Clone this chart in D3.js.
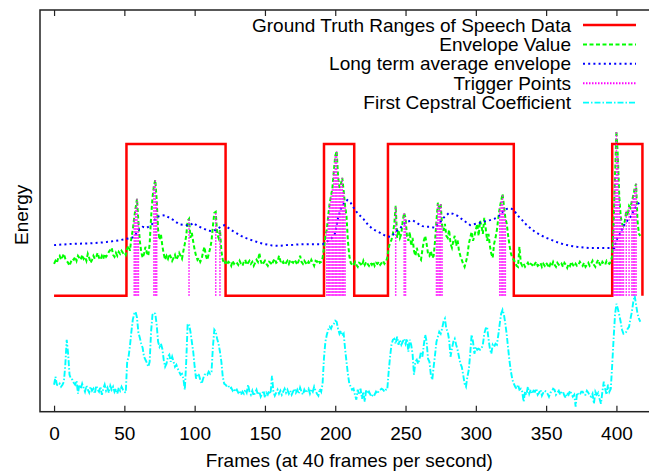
<!DOCTYPE html>
<html lang="en">
<head>
<meta charset="UTF-8">
<title>Speech Energy Envelope</title>
<script src="https://d3js.org/d3.v7.min.js"></script>
<style>
    body { margin: 0; background: #fff; }
    svg { display: block; font-family: "Liberation Sans", Arial, sans-serif; }
    .lbl { font-size: 19px; fill: #000; }
    .tick text { font-size: 19px; fill: #000; font-family: "Liberation Sans", Arial, sans-serif; }
</style>
</head>
<body>
<div class="viz"></div>
<script>
const xTicks = [0, 50, 100, 150, 200, 250, 300, 350, 400];
const seriesNames = ["Ground Truth Ranges of Speech Data", "Envelope Value", "Long term average envelope", "Trigger Points", "First Cepstral Coefficient"];

const gtOn = [51.5, 192, 237.5, 397];
const gtOff = [122, 213.5, 327, 418.5];
const gtLow = 0, gtHigh = 152;

// envelope, one value per frame (0..417)
const envelope = [
    32, 35, 33, 38, 40, 36, 39, 42, 37, 35,
    33, 30, 34, 37, 36, 39, 35, 40, 38, 36,
    41, 37, 39, 35, 42, 38, 33, 36, 40, 37,
    39, 43, 38, 36, 40, 37, 42, 39, 41, 44,
    46, 48, 41, 39, 43, 40, 44, 42, 45, 43,
    44, 41, 47, 50, 45, 58, 66, 78, 88, 97,
    74, 55, 44, 38, 42, 49, 43, 40, 52, 78,
    98, 110, 116, 96, 66, 56, 62, 50, 42, 36,
    40, 37, 42, 39, 35, 38, 41, 36, 39, 43,
    40, 37, 45, 52, 60, 75, 77, 58, 63, 54,
    46, 40, 36, 38, 34, 37, 44, 49, 40, 36,
    42, 47, 55, 70, 83, 84, 62, 58, 66, 45,
    36, 32, 34, 31, 34, 33, 30, 35, 32, 34,
    33, 31, 35, 32, 30, 34, 36, 31, 33, 35,
    32, 34, 30, 33, 36, 34, 43, 35, 31, 33,
    35, 32, 30, 34, 33, 31, 35, 37, 33, 34,
    40, 35, 32, 34, 31, 33, 35, 32, 36, 34,
    33, 36, 34, 31, 35, 40, 34, 32, 35, 33,
    31, 34, 32, 36, 33, 30, 35, 34, 36, 33,
    34, 38, 48, 60, 66, 80, 92, 100, 108, 125,
    140, 145, 120, 108, 112, 118, 105, 90, 80, 55,
    40, 33, 31, 30, 34, 31, 29, 33, 32, 30,
    35, 31, 34, 32, 30, 33, 31, 34, 30, 33,
    32, 34, 31, 33, 35, 32, 34, 38, 48, 53,
    56, 62, 72, 90, 58, 66, 58, 62, 75, 83,
    78, 60, 55, 64, 50, 58, 45, 40, 48, 42,
    38, 36, 46, 55, 60, 52, 42, 40, 45, 38,
    40, 55, 75, 93, 88, 92, 70, 65, 72, 60,
    58, 66, 52, 48, 55, 60, 50, 56, 45, 40,
    36, 32, 29, 34, 40, 52, 58, 64, 55, 60,
    66, 72, 60, 75, 70, 62, 78, 68, 55, 62,
    50, 42, 38, 52, 58, 66, 78, 88, 95, 102,
    90, 78, 72, 60, 50, 42, 38, 36, 33, 30,
    29, 49, 33, 30, 32, 29, 31, 33, 30, 32,
    31, 29, 32, 34, 30, 31, 33, 29, 32, 30,
    33, 31, 28, 32, 30, 34, 31, 29, 33, 31,
    30, 32, 29, 33, 31, 28, 32, 30, 34, 31,
    29, 32, 30, 31, 34, 32, 30, 33, 29, 31,
    33, 30, 32, 35, 31, 29, 33, 36, 32, 30,
    34, 32, 31, 35, 33, 32, 34, 40, 70, 120,
    165, 140, 100, 80, 72, 70, 75, 85, 80, 90,
    88, 95, 100, 108, 112, 75, 62, 60
];

// long term average envelope (smooth, read at these frames)
const ltaFrames = [0, 13, 25, 37, 47, 55, 57, 60, 63, 66, 70, 73, 76, 79, 82, 85, 89, 94, 97, 99,
    102, 106, 110, 112, 115, 117, 119, 121, 124, 127, 130, 133, 136, 139, 142, 146, 150, 155, 160, 165,
    170, 175, 180, 185, 191, 194, 197, 199, 200, 202, 204, 206, 208.6, 211, 213, 216, 220, 223.5, 227, 232,
    236, 239, 241, 243, 246, 249, 251, 255, 258, 262, 265, 268, 271, 274, 277, 281, 284, 287, 291, 296,
    300, 305, 310, 313, 316, 319, 322, 325, 327, 330, 333, 336, 339, 342, 346, 350, 353, 357, 362, 367,
    372, 377, 381, 386, 391, 396, 398.5, 400, 402.5, 405, 407, 410, 413, 417];
const ltaValues = [50.7, 52, 52.4, 53.7, 55.7, 58, 59, 66, 69, 68, 72, 79, 80, 80.7, 78, 75.7, 71.5, 70.7, 70.7, 73,
    70, 67.4, 65, 64.7, 66, 67.7, 69.5, 70.7, 68, 65, 62.5, 60, 58, 56.4, 55, 53, 51.7, 50.4, 50, 50.7,
    51, 51.5, 51.7, 51.7, 51.7, 54, 57, 60, 63, 78, 87, 92, 95.7, 93, 88.4, 82.4, 77, 70.7, 66.5, 63,
    59.7, 59, 61, 64, 67.4, 72, 74, 75.7, 73, 69.7, 69, 69, 68, 72.4, 78, 83, 82, 80, 75.7, 70.7,
    72, 74, 75.7, 77, 79, 84, 87, 87.4, 85.7, 80, 75.7, 71, 67.4, 64, 60.7, 58, 56.4, 54, 51.7, 50,
    49, 48.2, 47.7, 47.7, 47.7, 47.7, 47.7, 55.7, 62, 69.7, 74, 79, 87.4, 94.7];

// frames flagged as trigger points (drawn up to the envelope value)
const triggerFrames = [57, 58, 59, 60, 71, 72, 73, 96, 115, 118,
    194, 195, 196, 197, 198, 199, 200, 201, 202, 203, 204, 205, 206, 207,
    243, 249, 250, 272, 273, 274, 275, 276, 317, 318, 319, 320, 321,
    398, 399, 400, 401, 402, 403, 404, 405, 407, 409, 411, 412, 413, 414];

// first cepstral coefficient, one value per frame (0..417)
const cepstral = [
    -89, -81, -89, -90, -88, -91, -89, -86, -69, -44,
    -58, -79, -83, -84, -87, -89, -85, -98, -89, -93,
    -88, -92, -96, -90, -94, -97, -91, -95, -93, -98,
    -90, -94, -96, -91, -99, -93, -89, -95, -92, -97,
    -90, -94, -91, -96, -93, -98, -92, -95, -91, -94,
    -96, -97, -66, -61, -50, -36, -24, -18, -16, -22,
    -37, -42, -48, -52, -61, -64, -67, -71, -66, -36,
    -19, -17, -18, -29, -46, -51, -48, -53, -64, -71,
    -68, -61, -59, -66, -61, -66, -71, -69, -73, -76,
    -79, -78, -83, -94, -66, -29, -28, -36, -46, -56,
    -71, -83, -78, -79, -84, -88, -83, -79, -78, -79,
    -76, -78, -76, -51, -34, -36, -43, -48, -56, -66,
    -81, -88, -89, -91, -90, -93, -92, -95, -93, -96,
    -94, -97, -95, -99, -96, -98, -94, -97, -89, -96,
    -99, -95, -100, -97, -94, -99, -96, -101, -98, -95,
    -102, -97, -99, -95, -98, -80, -96, -100, -97, -94,
    -98, -95, -99, -96, -93, -97, -94, -98, -95, -99,
    -96, -93, -97, -94, -98, -92, -96, -99, -94, -97,
    -95, -93, -98, -94, -96, -91, -95, -98, -100, -93,
    -96, -88, -62, -46, -39, -34, -31, -33, -29, -28,
    -25, -26, -33, -38, -35, -40, -38, -53, -66, -78,
    -88, -91, -94, -93, -99, -104, -94, -99, -93, -103,
    -96, -106, -94, -98, -96, -99, -101, -98, -99, -96,
    -98, -95, -94, -93, -94, -96, -94, -94, -76, -61,
    -49, -44, -43, -48, -41, -49, -44, -49, -46, -43,
    -48, -43, -56, -44, -49, -58, -79, -66, -64, -68,
    -63, -56, -61, -49, -39, -46, -63, -66, -79, -84,
    -71, -59, -46, -41, -36, -38, -33, -26, -23, -33,
    -36, -44, -61, -53, -46, -43, -49, -54, -61, -68,
    -71, -79, -88, -91, -81, -74, -58, -39, -46, -58,
    -51, -54, -53, -54, -53, -49, -38, -33, -31, -43,
    -53, -58, -49, -51, -48, -49, -39, -28, -18, -14,
    -19, -28, -39, -53, -66, -76, -84, -88, -91, -93,
    -89, -94, -93, -96, -106, -96, -99, -91, -98, -94,
    -98, -95, -96, -93, -99, -97, -94, -100, -97, -95,
    -96, -98, -101, -97, -96, -93, -94, -99, -97, -95,
    -99, -96, -96, -100, -102, -97, -99, -95, -98, -101,
    -99, -111, -97, -99, -99, -96, -96, -99, -99, -95,
    -97, -100, -101, -98, -108, -96, -99, -97, -103, -108,
    -96, -86, -93, -99, -89, -96, -93, -69, -43, -19,
    -8, -13, -19, -26, -34, -38, -38, -36, -33, -31,
    -23, -16, -6, 0, -9, -18, -23, -26
];

const W = 649, H = 474;
const margin = { left: 40, top: 10 };
const plotW = 618.6, plotH = 401.7;

const svg = d3.select('.viz').append('svg')
    .attr('width', W)
    .attr('height', H);

const x = d3.scaleLinear().domain([-10, 430]).range([margin.left, margin.left + plotW]);
const y = d3.scaleLinear().domain([-116, 286]).range([margin.top + plotH, margin.top]);

// ground truth as a step outline
const gtPts = [[0, gtLow]];
gtOn.forEach((on, i) => {
    gtPts.push([on, gtLow], [on, gtHigh], [gtOff[i], gtHigh], [gtOff[i], gtLow]);
});

const line = d3.line().x(d => x(d[0])).y(d => y(d[1]));

svg.append('path')
    .datum(gtPts)
    .attr('d', line)
    .attr('fill', 'none')
    .attr('stroke', '#ff0000')
    .attr('stroke-width', 2.5);

svg.append('path')
    .datum(envelope.map((v, i) => [i, v]))
    .attr('d', line)
    .attr('fill', 'none')
    .attr('stroke', '#00ff00')
    .attr('stroke-width', 2)
    .attr('stroke-dasharray', '4,2.5');

svg.append('path')
    .datum(ltaFrames.map((f, i) => [f, ltaValues[i]]))
    .attr('d', line)
    .attr('fill', 'none')
    .attr('stroke', '#0000ff')
    .attr('stroke-width', 2)
    .attr('stroke-dasharray', '2,3.2');

svg.append('g').selectAll('line')
    .data(triggerFrames)
    .join('line')
    .attr('x1', d => x(d)).attr('x2', d => x(d))
    .attr('y1', y(gtLow)).attr('y2', d => y(envelope[d]))
    .attr('stroke', '#ff00ff')
    .attr('stroke-width', 1.5)
    .attr('stroke-dasharray', '1.5,1.5');

svg.append('path')
    .datum(cepstral.map((v, i) => [i, v]))
    .attr('d', line)
    .attr('fill', 'none')
    .attr('stroke', '#00ffff')
    .attr('stroke-width', 1.9)
    .attr('stroke-dasharray', '6,2,1.5,2');

// border + ticks
svg.append('rect')
    .attr('x', margin.left).attr('y', margin.top)
    .attr('width', plotW).attr('height', plotH)
    .attr('fill', 'none')
    .attr('stroke', '#222')
    .attr('stroke-width', 1.5);

const xAxis = svg.append('g')
    .attr('transform', `translate(0,${margin.top + plotH})`)
    .call(d3.axisBottom(x).tickValues(xTicks).tickSize(-6).tickPadding(15));
xAxis.select('.domain').remove();
xAxis.selectAll('.tick line').attr('stroke', '#222').attr('stroke-width', 1.2);

const xTop = svg.append('g')
    .attr('transform', `translate(0,${margin.top})`)
    .call(d3.axisTop(x).tickValues(xTicks).tickSize(-6).tickFormat(''));
xTop.select('.domain').remove();
xTop.selectAll('.tick line').attr('stroke', '#222').attr('stroke-width', 1.2);

svg.append('text')
    .attr('class', 'lbl')
    .attr('x', margin.left + plotW / 2)
    .attr('y', 467)
    .attr('text-anchor', 'middle')
    .text('Frames (at 40 frames per second)');

svg.append('text')
    .attr('class', 'lbl')
    .attr('transform', `translate(28,${margin.top + plotH / 2 + 4}) rotate(-90)`)
    .attr('text-anchor', 'middle')
    .text('Energy');

// legend
const legendStyles = [
    { color: '#ff0000', dash: null, w: 2.5 },
    { color: '#00ff00', dash: '4,2.5', w: 2 },
    { color: '#0000ff', dash: '2,3.2', w: 2 },
    { color: '#ff00ff', dash: '1.5,1.5', w: 2 },
    { color: '#00ffff', dash: '6,2,1.5,2', w: 1.9 }
];
const legend = svg.append('g').selectAll('g')
    .data(seriesNames)
    .join('g')
    .attr('transform', (d, i) => `translate(0,${25 + i * 19.4})`);

legend.append('text')
    .attr('class', 'lbl')
    .attr('x', 571)
    .attr('dy', '0.35em')
    .attr('text-anchor', 'end')
    .text(d => d);

legend.append('line')
    .attr('x1', 583).attr('x2', 636)
    .attr('stroke', (d, i) => legendStyles[i].color)
    .attr('stroke-width', (d, i) => legendStyles[i].w)
    .attr('stroke-dasharray', (d, i) => legendStyles[i].dash);
</script>
</body>
</html>
